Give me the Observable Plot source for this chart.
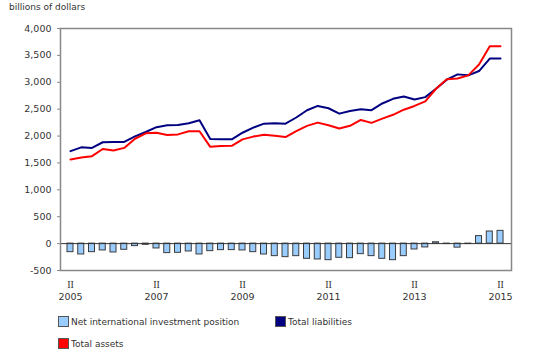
<!DOCTYPE html>
<html><head><meta charset="utf-8">
<script src="https://cdn.jsdelivr.net/npm/d3@7"></script>
<script src="https://cdn.jsdelivr.net/npm/@observablehq/plot@0.6"></script>
<style>
body{margin:0;background:#fff;font-family:"DejaVu Sans",Verdana,sans-serif;color:#333;}
#wrap{position:relative;width:539px;height:358px;overflow:hidden;}
#chart{position:absolute;left:0;top:0;}
#title{position:absolute;left:9px;top:1px;font-size:9px;line-height:12px;}
.sw{position:absolute;width:11px;height:11px;box-sizing:border-box;border:1px solid #555;}
.lt{position:absolute;font-size:9px;line-height:12px;white-space:nowrap;}
</style></head><body>
<div id="wrap">
<div id="chart"></div>
<div id="title">billions of dollars</div>
</div>
<script>
// Quarters: 2005 Q2 ... 2015 Q2
const startYear = 2005, startQuarter = 2, nQuarters = 41;
const quarters = Array.from({length: nQuarters}, (_, i) => {
  const q = startQuarter - 1 + i;
  return {year: startYear + Math.floor(q / 4), q: (q % 4) + 1};
});

const netPosition = [-159,-202,-159,-127,-165,-115,-47,-22,-90,-177,-171,-146,-202,-140,-121,-121,-127,-159,-202,-233,-252,-233,-283,-295,-308,-264,-271,-196,-233,-283,-308,-233,-109,-71,25,-8,-75,-8,140,225,237];
const totalLiabilities = [1720,1790,1780,1885,1890,1890,1994,2075,2165,2200,2205,2237,2295,1944,1940,1940,2062,2156,2230,2237,2231,2345,2480,2560,2517,2417,2467,2498,2481,2606,2692,2737,2681,2724,2880,3048,3147,3129,3209,3440,3440];
const totalAssets = [1564,1600,1626,1760,1730,1780,1950,2050,2062,2020,2031,2090,2090,1800,1813,1819,1938,1990,2024,2006,1981,2093,2190,2250,2200,2140,2190,2300,2245,2325,2395,2490,2560,2645,2880,3055,3070,3129,3330,3670,3670];

const tickYears = [2005, 2007, 2009, 2011, 2013, 2015];
const yTicks = [-500, 0, 500, 1000, 1500, 2000, 2500, 3000, 3500, 4000];

const seriesNames = ["Net international investment position", "Total liabilities", "Total assets"];
const seriesColors = ["#99ccff", "#000080", "#ff0000"];

const data = quarters.map((d, i) => ({i, year: d.year, q: d.q, net: netPosition[i], liab: totalLiabilities[i], assets: totalAssets[i]}));
const tickIdx = data.filter(d => d.q === 2 && tickYears.includes(d.year)).map(d => d.i);
const yearOf = i => data[i].year;

const chart = Plot.plot({
  width: 539, height: 305,
  marginLeft: 60, marginRight: 28, marginTop: 28, marginBottom: 35,
  style: {fontFamily: "DejaVu Sans, sans-serif", fontSize: "9px", color: "#333", background: "transparent"},
  x: {type: "linear", domain: [-0.93, 41.02], axis: null},
  y: {domain: [-500, 4000], axis: null},
  marks: [
    Plot.rect(data, {x1: d => d.i - 0.28, x2: d => d.i + 0.28, y1: 0, y2: "net", fill: seriesColors[0], stroke: "#3c3c3c", strokeWidth: 1}),
    Plot.ruleY([0], {stroke: "#333", strokeWidth: 1}),
    Plot.lineY(data, {x: "i", y: "liab", stroke: seriesColors[1], strokeWidth: 2}),
    Plot.lineY(data, {x: "i", y: "assets", stroke: seriesColors[2], strokeWidth: 2}),
    Plot.frame({stroke: "#888", strokeWidth: 1.5}),
    Plot.axisY({ticks: yTicks, tickFormat: d => d.toLocaleString("en-US"), tickSize: 3, tickPadding: 6, stroke: "#888", label: null, fontSize: 9.5}),
    Plot.axisX({ticks: tickIdx, tickFormat: () => "II", tickSize: 0, tickPadding: 10, fontFamily: "Liberation Serif, serif", fontSize: 10, label: null}),
    Plot.axisX({ticks: tickIdx, tickFormat: i => String(yearOf(i)), tickSize: 0, tickPadding: 23, label: null, fontSize: 9.5})
  ]
});
document.getElementById("chart").appendChild(chart);

// Legend
const wrap = document.getElementById("wrap");
const legendPos = [[58, 316], [275, 316], [58, 338]];
seriesNames.forEach((name, k) => {
  const [lx, ly] = legendPos[k];
  const sw = document.createElement("div");
  sw.className = "sw";
  sw.style.left = lx + "px"; sw.style.top = ly + "px";
  sw.style.background = seriesColors[k];
  wrap.appendChild(sw);
  const t = document.createElement("div");
  t.className = "lt";
  t.style.left = (lx + 13) + "px"; t.style.top = (ly - 0.5) + "px";
  t.textContent = name;
  wrap.appendChild(t);
});
</script>
</body></html>
